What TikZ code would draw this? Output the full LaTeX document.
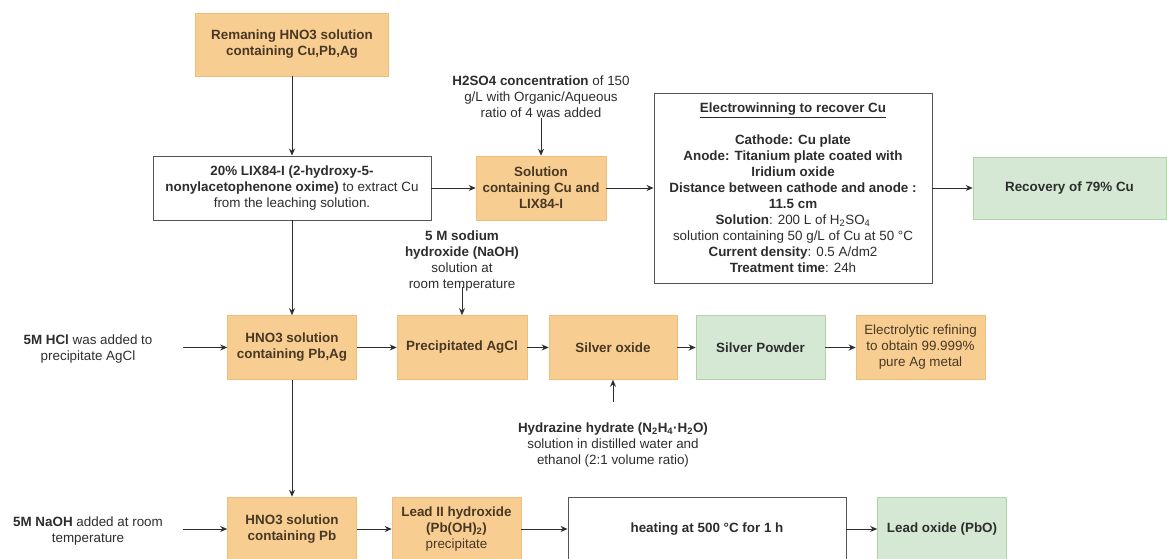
\documentclass[tikz,border=0pt]{standalone}
\usepackage{fontspec}
\setmainfont{Liberation Sans}
\usetikzlibrary{arrows.meta, positioning}
\definecolor{myorange}{RGB}{247,205,145}
\definecolor{myorangeline}{RGB}{238,190,125}
\definecolor{mygreen}{RGB}{213,232,212}
\definecolor{mygreenline}{RGB}{180,210,168}
\definecolor{mydark}{RGB}{45,45,45}
\definecolor{mybrown}{RGB}{72,56,36}
\definecolor{mygray}{RGB}{85,85,85}
\newcommand{\boxfont}{\fontsize{13.4}{16}\selectfont}
\tikzset{
  orangebox/.style={rectangle, draw=myorangeline, fill=myorange,
    align=center, font=\boxfont\bfseries, text=mybrown,
    minimum width=129pt, minimum height=64pt, line width=0.6pt, inner sep=2pt},
  greenbox/.style={orangebox, draw=mygreenline, fill=mygreen, text=mydark},
  whitebox/.style={rectangle, draw=mygray, fill=white, align=center,
    font=\boxfont, text=mydark, minimum height=64pt, line width=0.9pt, inner sep=2pt},
  note/.style={align=center, font=\boxfont, text=mydark, inner sep=0pt},
  arrow/.style={-{Stealth[length=7pt,width=6pt]}, line width=0.9pt, color=mydark}
}
\begin{document}
\begin{tikzpicture}[x=1pt, y=-1pt]
  \useasboundingbox (0,0) rectangle (1167,559);

  % Row 1: copper extraction
  \node[orangebox, minimum width=193pt, minimum height=63pt] (remain) at (292,44.5)
    {Remaning HNO3 solution\\containing Cu,Pb,Ag};
  \node[whitebox, minimum width=278pt] (lix) at (292,188)
    {\textbf{20\% LIX84-I (2-hydroxy-5-}\\\textbf{nonylacetophenone oxime)} to extract Cu\\from the leaching solution.};
  \node[orangebox, minimum width=130pt] (cusol) at (541,188)
    {Solution\\containing Cu and\\LIX84-I};
  \node[note] (acid) at (541,97)
    {\textbf{H2SO4 concentration} of 150\\g/L with Organic/Aqueous\\ratio of 4 was added};
  \node[whitebox, minimum width=278pt, minimum height=190pt] (ew) at (793,188)
    {\underline{\textbf{Electrowinning to recover Cu}}\\[16pt]
     \textbf{Cathode: Cu plate}\\
     \textbf{Anode: Titanium plate coated with}\\
     \textbf{Iridium oxide}\\
     \textbf{Distance between cathode and anode :}\\
     \textbf{11.5 cm}\\
     \textbf{Solution}: 200 L of H\textsubscript{2}SO\textsubscript{4}\\
     solution containing 50 g/L of Cu at 50 °C\\
     \textbf{Current density}: 0.5 A/dm2\\
     \textbf{Treatment time}: 24h};
  \node[greenbox, minimum width=193pt, minimum height=62pt] (cu) at (1069.5,188)
    {Recovery of 79\% Cu};

  % Row 2: silver recovery
  \node[note] (hcl) at (88,349) {\textbf{5M HCl} was added to\\precipitate AgCl};
  \coordinate (hclend) at (183,347.5);
  \node[orangebox] (pbag) at (292,347.5) {HNO3 solution\\containing Pb,Ag};
  \node[orangebox, minimum width=130pt] (agcl) at (462,347.5) {Precipitated AgCl};
  \node[orangebox, minimum width=128pt] (agox) at (613,347.5) {Silver oxide};
  \node[greenbox] (agpow) at (760.5,347.5) {Silver Powder};
  \node[orangebox, font=\boxfont] (refine) at (920.5,347.5)
    {Electrolytic refining\\to obtain 99.999\%\\pure Ag metal};
  \node[note] (naoh) at (462,261)
    {\textbf{5 M sodium}\\\textbf{hydroxide (NaOH)}\\solution at\\room temperature};
  \coordinate (naohend) at (462,287);
  \node[note] (hyd) at (613,445)
    {\textbf{Hydrazine hydrate (N\textsubscript{2}H\textsubscript{4}·H\textsubscript{2}O)}\\solution in distilled water and\\ethanol (2:1 volume ratio)};
  \coordinate (hydend) at (613,402);

  % Row 3: lead recovery
  \node[note] (naohpb) at (88,531) {\textbf{5M NaOH} added at room\\temperature};
  \coordinate (naohpbend) at (183,529);
  \node[orangebox] (pb) at (292,529) {HNO3 solution\\containing Pb};
  \node[orangebox] (pboh) at (456.5,529)
    {Lead II hydroxide\\(Pb(OH)\textsubscript{2})\\\mdseries precipitate};
  \node[whitebox, minimum width=278pt, font=\boxfont\bfseries] (heat) at (707,529)
    {heating at 500 °C for 1 h};
  \node[greenbox] (pbo) at (942,529) {Lead oxide (PbO)};

  % Connectors
  \draw[arrow] (remain) -- (lix);
  \draw[arrow] (lix) -- (cusol);
  \draw[arrow] (acid) -- (cusol);
  \draw[arrow] (cusol) -- (ew);
  \draw[arrow] (ew) -- (cu);
  \draw[arrow] (lix) -- (pbag);
  \draw[arrow] (hclend) -- (pbag);
  \draw[arrow] (pbag) -- (agcl);
  \draw[arrow] (naohend) -- (agcl);
  \draw[arrow] (agcl) -- (agox);
  \draw[arrow] (hydend) -- (agox);
  \draw[arrow] (agox) -- (agpow);
  \draw[arrow] (agpow) -- (refine);
  \draw[arrow] (pbag) -- (pb);
  \draw[arrow] (naohpbend) -- (pb);
  \draw[arrow] (pb) -- (pboh);
  \draw[arrow] (pboh) -- (heat);
  \draw[arrow] (heat) -- (pbo);
\end{tikzpicture}
\end{document}
